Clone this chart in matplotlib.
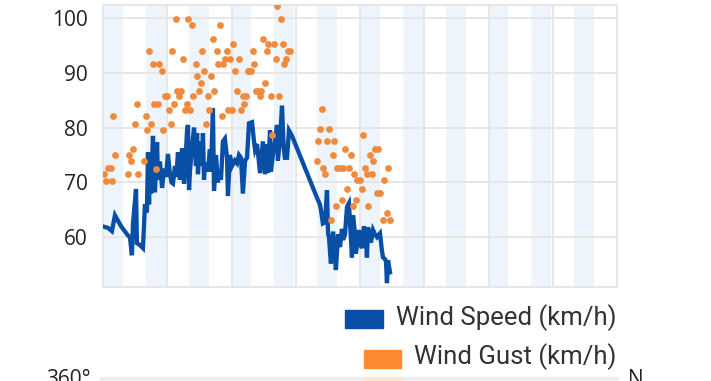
import matplotlib
matplotlib.use("Agg")
import matplotlib.pyplot as plt
from matplotlib.patches import Rectangle

# wind speed (hours from start, km/h)
speed_hours = [0.6, 2.8, 5.0, 6.7, 10.1, 14.0, 15.1, 16.2, 16.8, 18.5, 19.0, 20.5, 22.4, 23.5,
               24.6, 25.2, 25.8, 26.3, 26.9, 28.0, 29.1, 30.3, 30.8, 31.9, 33.1, 34.2, 35.3,
               36.4, 37.5, 38.4, 39.2, 40.3, 41.1, 42.0, 43.1, 44.3, 45.4, 45.9, 47.1, 47.6,
               48.2, 48.7, 49.9, 51.0, 52.1, 52.7, 53.2, 54.3, 55.5, 56.0, 56.6, 57.1, 58.8,
               59.9, 60.5, 61.6, 62.2, 63.3, 64.4, 65.0, 66.1, 67.2, 68.3, 69.5, 70.0, 71.1,
               72.3, 73.9, 75.1, 76.2, 77.3, 78.4, 79.6, 80.7, 81.8, 83.5, 84.6, 85.2, 86.3,
               86.8, 88.0, 89.6, 90.8, 91.9, 92.4, 93.6, 94.1, 95.2, 96.4, 97.5, 98.0, 99.2,
               100.3, 101.2, 101.9, 103.1, 104.2, 105.9,
               120.4, 121.5, 122.1, 123.2, 124.4, 125.5, 126.1, 126.6, 127.7, 128.9, 129.5,
               130.5, 131.7, 132.8, 133.9, 134.5, 135.6, 136.7, 137.8, 138.9, 139.5, 140.1,
               141.1, 141.7, 143.4, 144.5, 145.1, 146.2, 147.3, 147.9, 148.5, 150.1, 151.3,
               152.4, 153.5, 155.2, 156.3, 156.9, 158.0, 158.6, 159.1, 159.7, 160.8]
speed_vals = [61.9, 61.7, 61.1, 64.0, 62.0, 60.3, 60.0, 56.7, 62.5, 68.8, 58.9, 58.6, 58.0, 66.0,
              64.5, 75.5, 66.0, 74.5, 68.0, 78.5, 68.2, 77.3, 70.5, 73.8, 69.0, 72.5, 71.0,
              75.2, 71.5, 70.0, 69.8, 73.0, 71.0, 75.5, 70.5, 76.2, 69.8, 72.0, 79.5, 80.5,
              68.6, 72.0, 76.5, 80.0, 73.0, 79.0, 71.5, 77.5, 73.0, 79.0, 70.5, 73.5, 72.0,
              76.0, 72.0, 83.5, 68.5, 75.0, 70.0, 72.0, 70.5, 77.5, 78.0, 74.5, 67.5, 75.0,
              73.0, 74.0, 73.5, 75.0, 74.5, 68.0, 74.0, 74.5, 80.8, 81.0, 77.5, 76.0, 77.0,
              75.5, 71.7, 77.5, 71.5, 77.0, 71.8, 79.5, 72.0, 75.0, 77.5, 80.5, 74.0, 78.0,
              84.0, 76.5, 74.5, 74.5, 79.5, 78.5,
              66.8, 66.0, 65.0, 62.5, 62.7, 68.6, 60.7, 60.0, 55.2, 61.0, 58.5,
              54.0, 60.5, 58.2, 61.5, 59.5, 60.5, 65.5, 66.2, 60.0, 56.3, 64.0,
              61.0, 57.0, 61.3, 58.5, 58.0, 62.0, 59.5, 56.3, 61.8, 59.0, 61.3,
              60.5, 60.0, 60.7, 57.5, 56.3, 56.0, 55.5, 51.6, 55.8, 53.6]

# wind gust (hours from start, km/h)
gust_hours = [0.6, 1.7, 2.8, 4.5, 5.0, 5.6, 6.7, 14.0, 14.6, 15.7, 16.8, 17.9, 19.0, 19.6,
              23.0, 24.1, 24.6, 25.8, 26.9, 28.0, 28.6, 29.7, 30.8, 31.4, 33.1, 33.6, 34.7,
              35.9, 37.0, 38.1, 38.7, 39.8, 40.9, 41.5, 42.6, 43.7, 44.8, 45.9, 47.1, 47.6,
              48.7, 49.9, 50.4, 52.1, 52.7, 53.8, 54.9, 55.5, 56.6, 57.7, 58.8, 59.4, 60.5,
              61.6, 62.2, 63.9, 64.4, 65.5, 66.7, 67.2, 68.3, 69.5, 70.0, 71.1, 72.3, 72.8,
              73.9, 75.1, 76.2, 77.3, 78.4, 79.0, 80.1, 81.2, 81.8, 82.9, 84.0, 84.6, 85.7,
              86.8, 88.0, 88.5, 89.6, 90.8, 91.9, 92.4, 94.1, 94.7, 95.8, 96.9, 97.5, 98.6,
              99.7, 100.8, 101.4, 102.5, 103.6, 104.8,
              119.9, 120.4, 121.6, 122.7, 123.2, 124.4, 125.5, 126.6, 127.7, 128.9, 129.4,
              130.5, 131.1, 132.8, 133.9, 134.5, 135.6, 136.7, 137.8, 138.9, 140.1, 140.6,
              141.7, 142.3, 143.9, 145.1, 145.7, 146.8, 147.9, 148.5, 149.6, 150.7, 151.3,
              152.4, 153.5, 154.1, 155.2, 156.9, 157.4, 159.1, 159.7, 160.8]
gust_vals = [71.5, 70.2, 72.6, 72.6, 70.2, 82.1, 75.0, 71.5, 75.0, 73.9, 76.1, 80.6, 84.3, 71.5,
             73.9, 82.1, 79.5, 94.0, 80.6, 91.6, 84.3, 72.4, 84.3, 91.6, 90.3, 79.5, 85.8,
             85.8, 83.2, 80.6, 94.0, 84.3, 99.8, 86.7, 85.8, 86.7, 92.5, 83.2, 84.3, 99.8,
             83.2, 98.7, 85.8, 91.6, 89.4, 86.7, 88.1, 94.0, 90.3, 80.6, 85.8, 83.2, 89.4,
             96.2, 86.7, 94.0, 91.6, 98.7, 82.1, 91.6, 92.5, 94.0, 83.2, 92.5, 83.2, 95.2,
             90.3, 86.7, 92.5, 83.2, 85.8, 84.3, 85.8, 90.3, 90.3, 90.3, 94.0, 91.6, 86.7,
             86.7, 85.8, 86.7, 96.2, 88.1, 94.0, 95.2, 85.8, 78.6, 95.2, 92.5, 102.2, 85.8,
             99.8, 95.2, 91.6, 92.5, 94.0, 94.0,
             74.0, 77.5, 79.7, 83.4, 72.6, 71.5, 77.5, 79.7, 63.1, 75.0, 77.5,
             65.7, 72.6, 72.6, 66.8, 72.6, 76.1, 68.8, 72.6, 75.0, 65.7, 71.5,
             66.8, 70.4, 70.4, 68.8, 78.6, 72.6, 71.5, 65.7, 75.0, 71.5, 74.0,
             76.1, 68.0, 76.1, 68.0, 63.1, 70.4, 64.4, 72.6, 63.1]

y_ticks = [60, 70, 80, 90, 100]

blue = "#0a4fa6"
orange = "#f08b3e"

fig = plt.figure(figsize=(7.11, 3.81), dpi=100)
ax = fig.add_axes([103 / 711, 1 - 287 / 381, 514 / 711, 282 / 381])

# day/night bands
for d in range(12):
    ax.axvspan(24 * d, 24 * d + 11.2, color="#eef4fb", zorder=0, lw=0)

ax.plot(speed_hours, speed_vals, color=blue, lw=3.1, zorder=3, solid_joinstyle="miter")
ax.scatter(gust_hours, gust_vals, s=24, color=orange, zorder=4, linewidths=0)

ax.set_xlim(0, 288)
ax.set_ylim(50.9, 102.4)
ax.set_xticks(range(0, 289, 36))
ax.set_yticks(y_ticks)
ax.set_yticklabels([str(v) for v in y_ticks], fontsize=15, color="#222222", family="Open Sans")
ax.tick_params(axis="x", labelbottom=False, length=0)
ax.tick_params(axis="y", length=0, pad=11)
ax.grid(True, color="#e6e6e6", lw=1.4, zorder=1)
ax.set_axisbelow(True)
for sp in ax.spines.values():
    sp.set_color("#e6e6e6")
    sp.set_linewidth(1.4)

# legend drawn below
def px(x, y):
    return x / 711, 1 - y / 381

fig.patches.append(Rectangle(px(345, 328), 38 / 711, 18 / 381, color=blue, transform=fig.transFigure))
fig.patches.append(Rectangle(px(364, 368), 37 / 711, 18 / 381, color="#fb8a33", transform=fig.transFigure))
fig.text(*px(616, 318), "Wind Speed (km/h)", ha="right", va="center", fontsize=18.5,
         family="Roboto", color="#333333")
fig.text(*px(616, 357), "Wind Gust (km/h)", ha="right", va="center", fontsize=18.5,
         family="Roboto", color="#333333")

# top of the next panel, cut off by the crop
fig.patches.append(Rectangle(px(100, 381), 518 / 711, 4 / 381, color="#eeeeee", transform=fig.transFigure))
fig.patches.append(Rectangle(px(363, 381), 39 / 711, 4 / 381, color="#fde6cf", transform=fig.transFigure))
fig.text(*px(91, 369), "360°", ha="right", va="top", fontsize=15, family="Open Sans", color="#222222")
fig.text(*px(628, 369), "N", ha="left", va="top", fontsize=15, family="Open Sans", color="#222222")

fig.savefig("out.png", dpi=100)
